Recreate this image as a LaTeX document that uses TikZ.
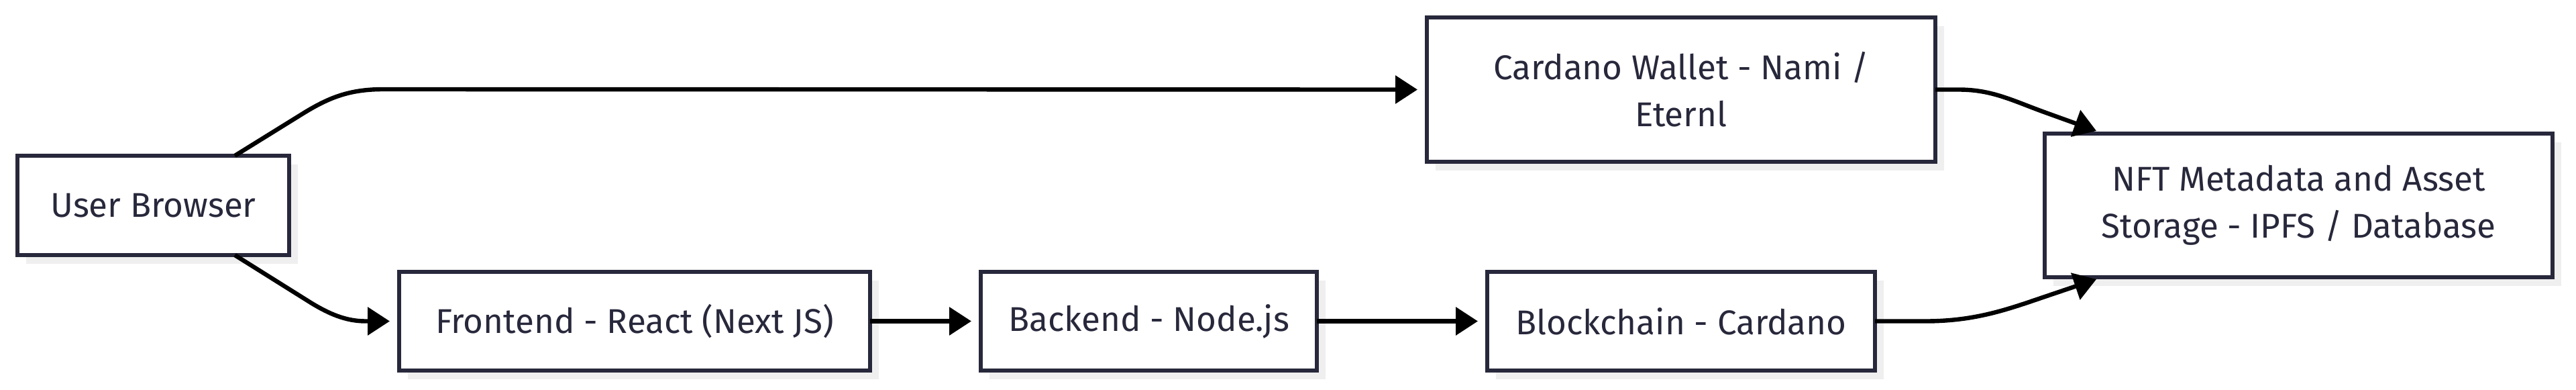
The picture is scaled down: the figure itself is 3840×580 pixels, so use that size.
\documentclass[tikz,border=0pt]{standalone}
\usepackage{fontspec}
\setmainfont{Fira Sans}
\usetikzlibrary{arrows.meta,shadows,calc}
\definecolor{ink}{HTML}{28283C}
\definecolor{shade}{HTML}{EFEFEF}
\begin{document}
\begin{tikzpicture}[x=0.25pt,y=-0.25pt,
  box/.style={draw=ink,line width=1.5pt,fill=white,inner sep=0pt,outer sep=0pt,
    text=ink,align=center,font=\fontsize{12.8pt}{17.5pt}\selectfont,
    drop shadow={shadow xshift=3.25pt,shadow yshift=-3.25pt,fill=shade,opacity=1}},
  conn/.style={draw=black,line width=1.6pt,-{Triangle[length=8.25pt,width=10.25pt]}}]
\useasboundingbox (0,0) rectangle (3840,580);
\node[box,minimum width=101.25pt,minimum height=37pt] (ub) at (228.5,306) {User Browser};
\node[box,minimum width=175.5pt,minimum height=36.75pt] (fe) at (946,478.5) {Frontend - React (Next JS)};
\node[box,minimum width=125.25pt,minimum height=36.75pt] (be) at (1712.5,478.5) {Backend - Node.js};
\node[box,minimum width=144.5pt,minimum height=36.75pt] (bc) at (2506,478.5) {Blockchain - Cardano};
\node[box,minimum width=189.5pt,minimum height=53.75pt] (wal) at (2506,133.5) {Cardano Wallet - Nami /\\Eternl};
\node[box,minimum width=189.25pt,minimum height=53.5pt] (nft) at (3426.5,306) {NFT Metadata and Asset\\Storage - IPFS / Database};
% connectors
\draw[conn,shorten >=3.5pt] ($(ub.north)+(121.5,0)$) -- (455,167) .. controls (490,146) and (520,133) .. (571,133) -- (wal.west);
\draw[conn,shorten >=3.5pt] ($(ub.south)+(121.5,0)$) -- (465,452) .. controls (490,467) and (515,478.5) .. (545,478.5) -- (fe.west);
\draw[conn,shorten >=3.5pt] (fe.east) -- (be.west);
\draw[conn,shorten >=3.5pt] (be.east) -- (bc.west);
\draw[conn] (wal.east) -- (2920,133.5) .. controls (2970,133.5) and (3000,150) .. (3050,168) -- ($(nft.north west)+(77,-4)$);
\draw[conn] (bc.east) -- (2870,478.5) .. controls (2950,478.5) and (3000,458) .. (3060,438) -- ($(nft.south west)+(77,3)$);
\end{tikzpicture}
\end{document}
